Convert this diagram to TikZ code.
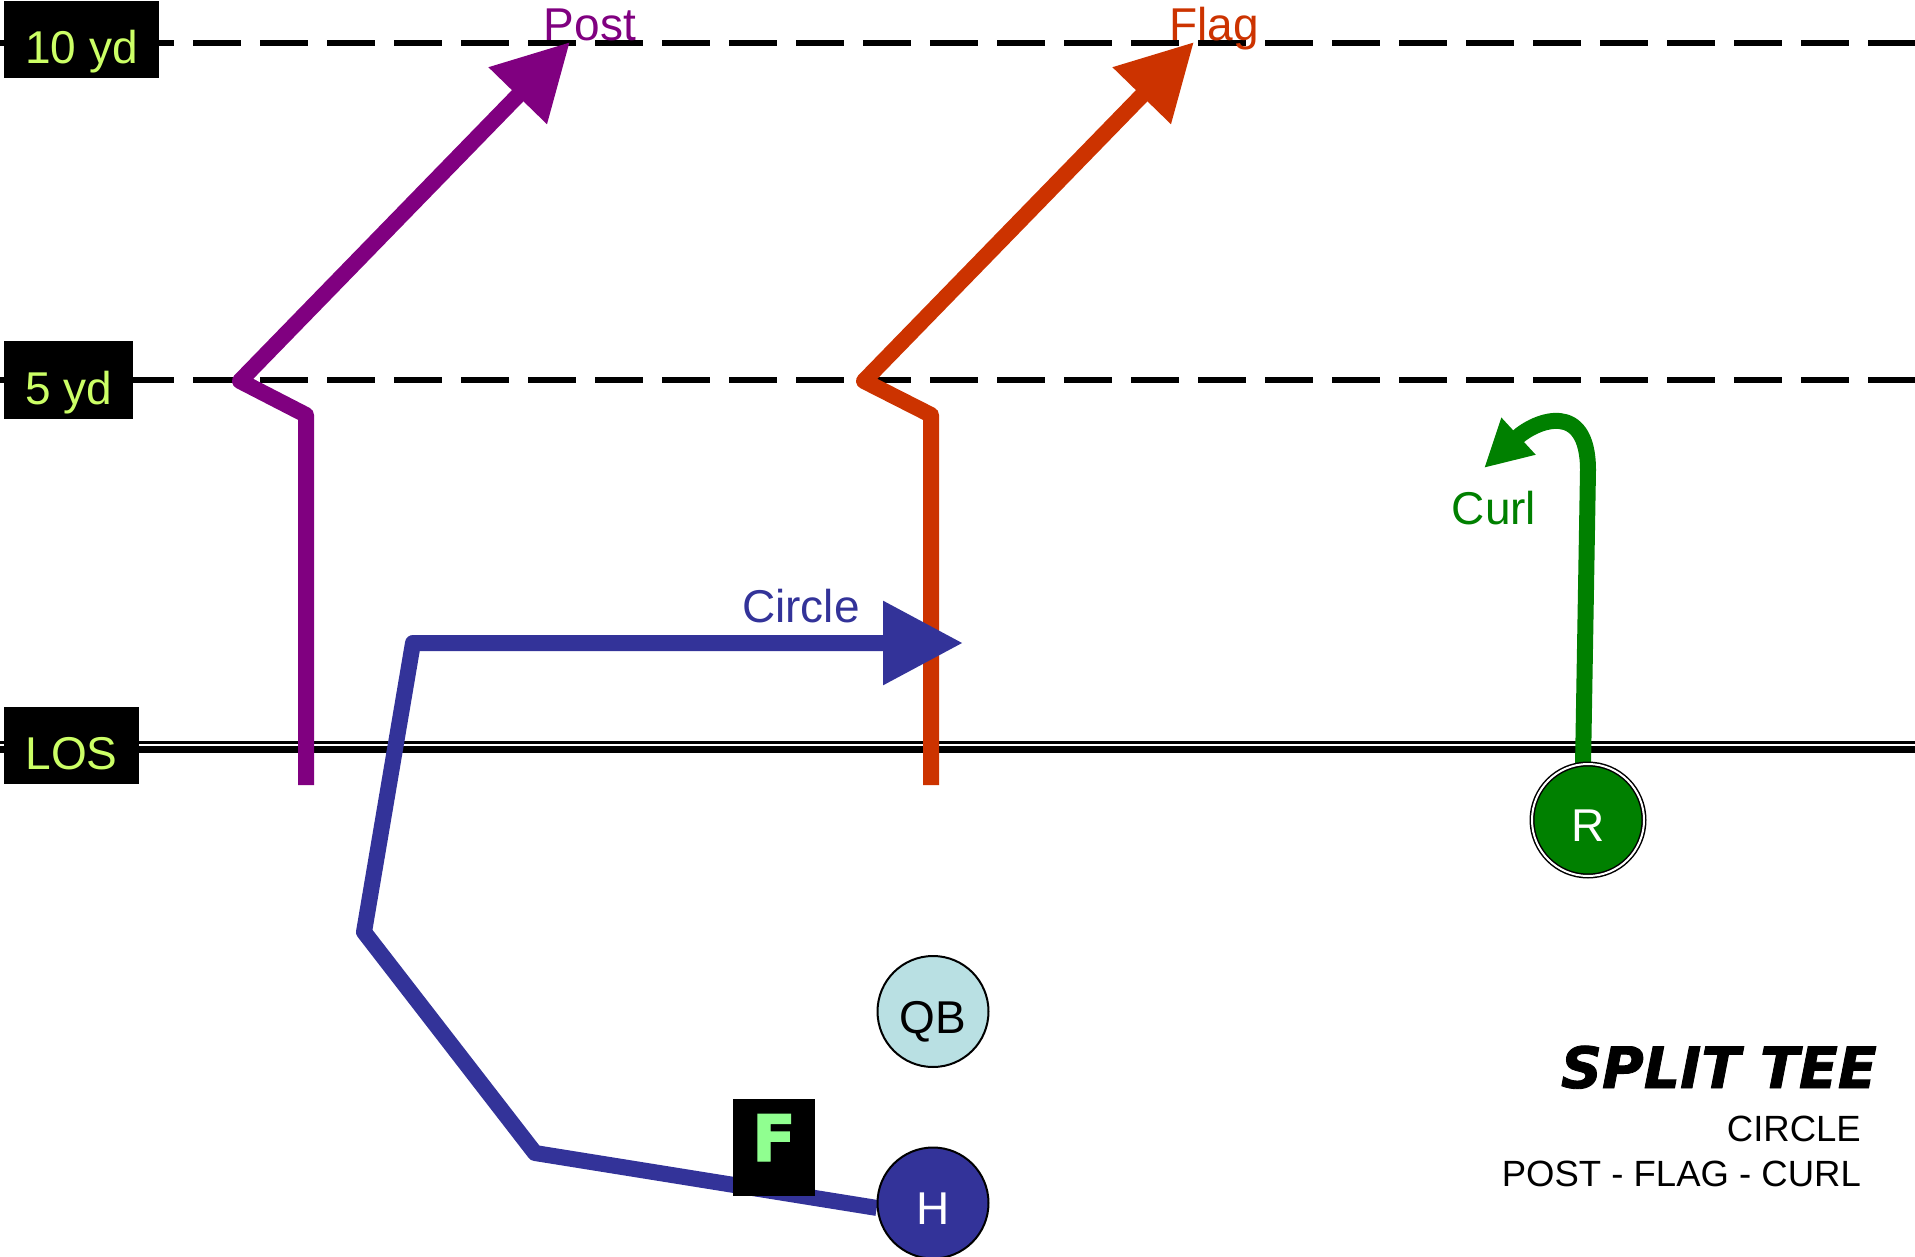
\documentclass[tikz,border=0pt]{standalone}
\usepackage{fontspec}
\setmainfont{Liberation Sans}
\newfontfamily\heavyfont{DejaVu Sans}[BoldFeatures={FakeBold=2}, BoldItalicFeatures={FakeBold=1.5}]
\usepackage{tikz}
\usetikzlibrary{positioning}
\usetikzlibrary{arrows.meta}
\usetikzlibrary{backgrounds}
\definecolor{yardgreen}{HTML}{CCFF66}
\definecolor{fgreen}{HTML}{90FF90}
\definecolor{postcol}{HTML}{800080}
\definecolor{flagcol}{HTML}{CC3300}
\definecolor{circlecol}{HTML}{333399}
\definecolor{curlcol}{HTML}{008000}
\definecolor{qbcol}{HTML}{B9E0E3}

\begin{document}
\begin{tikzpicture}[x=1pt,y=-1pt]
			\tikzstyle{YardStyle}   = [fill=black, text=yardgreen, inner xsep=21pt, minimum height=77pt, text height=48pt, text depth=0pt, font=\fontsize{46pt}{50pt}\selectfont]
			\tikzstyle{PlayerStyle} = [shape=circle, draw, line width=2pt, minimum size=111pt, inner sep=0pt, text height=43pt, text depth=0pt, font=\fontsize{46pt}{50pt}\selectfont]
			\tikzstyle{LabelStyle}  = [anchor=base, inner sep=0pt, font=\fontsize{46pt}{50pt}\selectfont]
			\tikzstyle{PlayText}    = [anchor=base east, inner sep=0pt, font=\fontsize{36.5pt}{40pt}\selectfont]
			\tikzstyle{RouteStyle}  = [line width=16pt, line join=round]
			\tikzstyle{YardLine}    = [line width=6.5pt, dash pattern=on 48pt off 19pt, dash phase=8pt]
			\useasboundingbox (0,0) rectangle (1915,1257);
			\node[YardStyle] (ten)  at (81.5,39.5) {10 yd};
			\node[YardStyle] (five) at (68.5,380) {5 yd};
			\node[YardStyle] (los)  at (71.5,745.5) {LOS};
			\node[PlayerStyle, fill=circlecol, text=white] (H) at (933,1203) {H};
			\node[PlayerStyle, fill=qbcol, above=78.5pt of H] (QB) {QB};
			\node[PlayerStyle, fill=curlcol, text=white, line width=1.5pt, double=white, double distance=2pt, minimum size=112pt] (R) at (1588,820) {R};
			\node[fill=black, text=fgreen, minimum width=82pt, minimum height=97pt, inner sep=0pt, text height=47pt, text depth=20pt, font=\heavyfont\bfseries\fontsize{64pt}{64pt}\selectfont] (F) at (774,1147.5) {F};
			\node[LabelStyle, text=postcol]   (post)   at (590,41)   {Post};
			\node[LabelStyle, text=flagcol]   (flag)   at (1214,41)  {Flag};
			\node[LabelStyle, text=circlecol] (circle) at (801,622)  {Circle};
			\node[LabelStyle, text=curlcol]   (curl)   at (1494,524) {Curl};
			\node[anchor=base east, inner sep=0pt, font=\heavyfont\bfseries\itshape\fontsize{57pt}{60pt}\selectfont] (title) at (1877,1088) {SPLIT TEE};
			\node[PlayText] (play1) at (1861,1141) {CIRCLE};
			\node[PlayText] (play2) at (1861,1186) {POST - FLAG - CURL};
			\coordinate (postStart) at (306,785);
			\coordinate (postEnd)   at (570,42);
			\coordinate (flagStart) at (931,785);
			\coordinate (flagEnd)   at (1194,42);
			\coordinate (circleEnd) at (963,643);
			\coordinate (curlEnd)   at (1484,468);
			\begin{scope}[on background layer]
				\draw[YardLine] (0,43) -- (1915,43);
				\draw[YardLine] (0,380) -- (1915,380);
				\draw[line width=3pt] (0,742) -- (1915,742);
				\draw[line width=7pt] (0,749.5) -- (1915,749.5);
				\draw[RouteStyle, postcol, -{Triangle[length=75pt,width=77pt]}] (postStart) -- (306,415) -- (240,381) -- (postEnd);
				\draw[RouteStyle, flagcol, -{Triangle[length=75pt,width=77pt]}] (flagStart) -- (931,415) -- (864,381) -- (flagEnd);
				\draw[RouteStyle, circlecol, -{Triangle[length=80pt,width=80pt]}] (H.185) -- (535,1153) -- (364,932) -- (413,643) -- (circleEnd);
				\draw[RouteStyle, curlcol, -{Triangle[length=47pt,width=47pt]}] (R.95) -- (1588,470) .. controls (1588,400) and (1536,420) .. (curlEnd);
			\end{scope}
		\end{tikzpicture}
\end{document}
